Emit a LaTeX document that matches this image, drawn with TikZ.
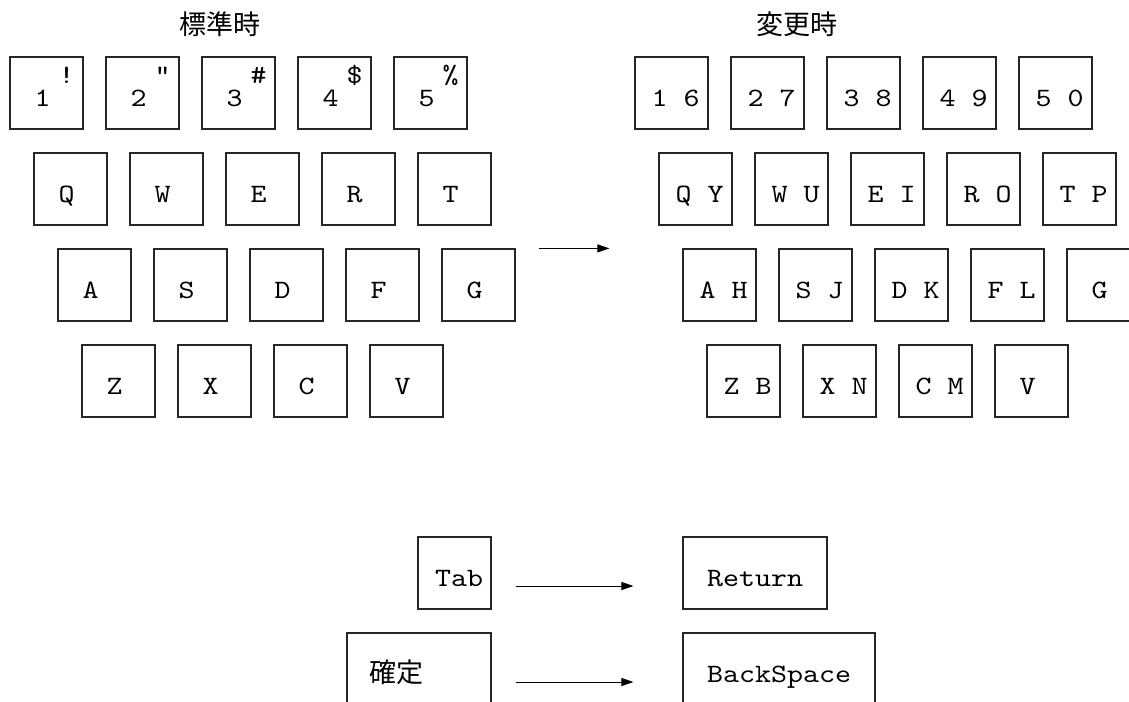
\documentclass[tikz,border=0pt]{standalone}
\usepackage{fontspec}
\usetikzlibrary{arrows.meta}
\newfontfamily\keyfont{lmmono10-regular}[Extension=.otf, FakeStretch=1.15]
\newfontfamily\jpfont{Noto Sans CJK JP}
\tikzset{
  keybox/.style={draw=black!85, line width=1.2pt, minimum width=73pt, minimum height=72pt,
    inner sep=0pt, font=\keyfont\fontsize{26.5}{30}\selectfont, text height=26pt, text depth=0pt},
  supch/.style={font=\keyfont\fontsize{26.5}{30}\selectfont, anchor=base, inner sep=0pt},
  title/.style={font=\jpfont\fontsize{27}{30}\selectfont, anchor=base, inner sep=0pt},
  conn/.style={line width=1pt, draw=black, -{Triangle[length=12pt,width=8pt]}}
}
\begin{document}
\begin{tikzpicture}[x=1pt,y=-1pt]
\path[use as bounding box] (0,0) rectangle (1129,701);
\clip (0,0) rectangle (1129,701);

% titles
\node[title] (T1) at (220,35) {標準時};
\node[title] (T2) at (797,35) {変更時};

% left: standard layout
\foreach \d/\s [count=\i from 0] in {1/!,2/",3/\#,4/\$,5/\%} {
  \node[keybox] (LN\i) at ({46.5+96*\i},93) {\d\kern8pt};
  \node[supch] (LS\i) at ({66.5+96*\i},83) {\s};
}
\foreach \t [count=\i from 0] in {Q,W,E,R,T}
  \node[keybox] (LQ\i) at ({70.5+96*\i},189) {\t\kern8pt};
\foreach \t [count=\i from 0] in {A,S,D,F,G}
  \node[keybox] (LA\i) at ({94.5+96*\i},285) {\t\kern8pt};
\foreach \t [count=\i from 0] in {Z,X,C,V}
  \node[keybox] (LZ\i) at ({118.5+96*\i},381) {\t\kern8pt};

% right: changed layout
\foreach \t [count=\i from 0] in {1 6,2 7,3 8,4 9,5 0}
  \node[keybox] (RN\i) at ({671.5+96*\i},93) {\kern8pt\t};
\foreach \t [count=\i from 0] in {Q Y,W U,E I,R O,T P}
  \node[keybox] (RQ\i) at ({695.5+96*\i},189) {\kern8pt\t};
\foreach \t [count=\i from 0] in {A H,S J,D K,F L}
  \node[keybox] (RA\i) at ({719.5+96*\i},285) {\kern8pt\t};
\node[keybox] (RA4) at ({719.5+96*4},285) {G\kern8pt};
\foreach \t [count=\i from 0] in {Z B,X N,C M}
  \node[keybox] (RZ\i) at ({743.5+96*\i},381) {\kern8pt\t};
\node[keybox] (RZ3) at ({743.5+96*3},381) {V\kern8pt};

\draw[conn] ([xshift=23pt]LA4.north east) -- ([xshift=-73pt]RA0.north west);

% special keys
\node[keybox] (Tab) at (454.5,573) {\kern9pt Tab};
\node[keybox, minimum width=144pt] (Ret) at (755,573) {Return};
\node[keybox, minimum width=144pt, font=\jpfont\fontsize{27}{30}\selectfont] (Kak) at (419,669) {確定\kern45pt};
\node[keybox, minimum width=192pt] (BS) at (779,669) {BackSpace};

\draw[conn] ([xshift=24pt,yshift=-13pt]Tab.east) -- ([xshift=-49pt,yshift=-13pt]Ret.west);
\draw[conn] ([xshift=24pt,yshift=-13pt]Kak.east) -- ([xshift=-49pt,yshift=-13pt]BS.west);
\end{tikzpicture}
\end{document}
